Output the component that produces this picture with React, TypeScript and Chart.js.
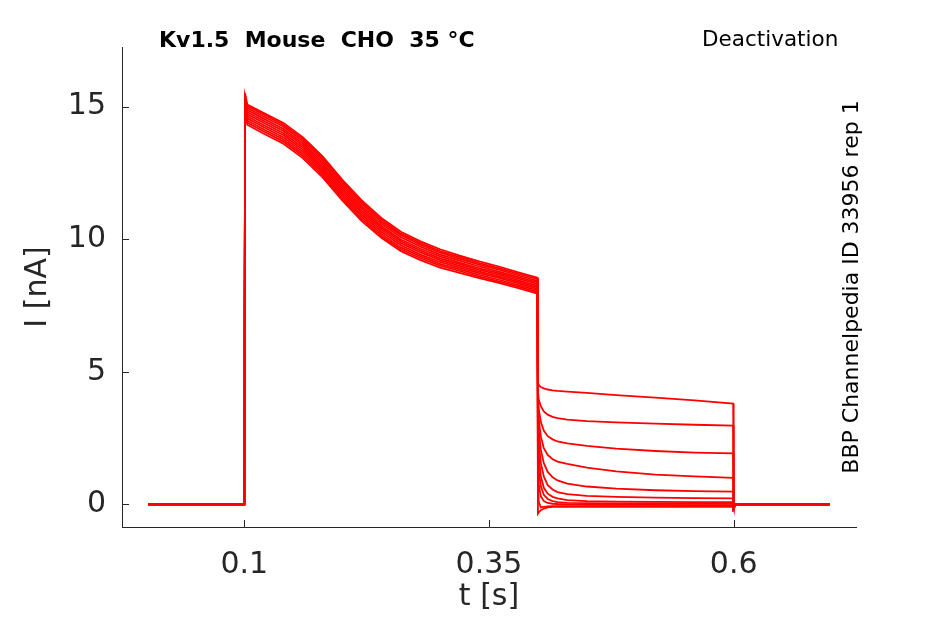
import { useEffect, useRef } from "react"
import { Chart, type ChartConfiguration, type Plugin, registerables } from "chart.js"

Chart.register(...registerables)

// sweep times [s]
const ACT_T = [0.002, 0.1, 0.1008, 0.103, 0.12, 0.14, 0.16, 0.18, 0.2, 0.22, 0.24, 0.26, 0.28, 0.3, 0.32, 0.34, 0.36, 0.38, 0.3995]
const TAIL_T = [0.4, 0.4008, 0.403, 0.406, 0.41, 0.415, 0.42, 0.43, 0.45, 0.48, 0.52, 0.56, 0.5995]
const END_T = [0.6, 0.602, 0.698]

// current during the activating step [nA], one row per sweep
const ACT_I = [
  [0, 0, 15.5, 15.08, 14.76, 14.38, 13.84, 13.12, 12.25, 11.46, 10.8, 10.28, 9.92, 9.62, 9.38, 9.16, 8.97, 8.75, 8.55],
  [0, 0, 15.4, 15.02, 14.7, 14.31, 13.77, 13.05, 12.18, 11.39, 10.73, 10.21, 9.85, 9.55, 9.32, 9.1, 8.91, 8.69, 8.49],
  [0, 0, 15.3, 14.95, 14.62, 14.24, 13.69, 12.97, 12.1, 11.32, 10.66, 10.15, 9.79, 9.49, 9.26, 9.04, 8.85, 8.63, 8.43],
  [0, 0, 15.25, 14.88, 14.54, 14.16, 13.61, 12.89, 12.02, 11.24, 10.58, 10.07, 9.72, 9.42, 9.19, 8.97, 8.78, 8.57, 8.37],
  [0, 0, 15.2, 14.8, 14.46, 14.08, 13.53, 12.81, 11.94, 11.16, 10.5, 9.99, 9.64, 9.35, 9.12, 8.9, 8.72, 8.51, 8.31],
  [0, 0, 15.15, 14.72, 14.38, 14.0, 13.45, 12.73, 11.86, 11.08, 10.43, 9.92, 9.57, 9.28, 9.06, 8.84, 8.66, 8.45, 8.25],
  [0, 0, 15.1, 14.64, 14.3, 13.92, 13.37, 12.65, 11.78, 11.0, 10.36, 9.85, 9.5, 9.21, 8.99, 8.78, 8.6, 8.39, 8.19],
  [0, 0, 15.05, 14.56, 14.22, 13.84, 13.29, 12.57, 11.7, 10.92, 10.28, 9.77, 9.42, 9.14, 8.93, 8.72, 8.54, 8.33, 8.13],
  [0, 0, 15.0, 14.48, 14.14, 13.76, 13.21, 12.49, 11.62, 10.84, 10.2, 9.69, 9.35, 9.07, 8.86, 8.65, 8.47, 8.27, 8.07],
  [0, 0, 14.95, 14.4, 14.06, 13.68, 13.13, 12.41, 11.54, 10.76, 10.12, 9.62, 9.28, 9.0, 8.8, 8.59, 8.41, 8.21, 8.01],
  [0, 0, 14.9, 14.32, 13.98, 13.6, 13.05, 12.33, 11.46, 10.68, 10.05, 9.55, 9.21, 8.93, 8.73, 8.53, 8.35, 8.15, 7.95],
]

// tail currents after the step [nA]
const TAIL_I = [
  [4.6, 4.5, 4.42, 4.37, 4.33, 4.3, 4.28, 4.25, 4.2, 4.12, 4.02, 3.92, 3.8],
  [4.3, 3.95, 3.7, 3.5, 3.38, 3.3, 3.25, 3.19, 3.14, 3.09, 3.04, 3.0, 2.97],
  [4.1, 3.6, 3.1, 2.78, 2.57, 2.45, 2.37, 2.3, 2.2, 2.1, 2.01, 1.95, 1.92],
  [3.9, 3.2, 2.55, 2.12, 1.86, 1.7, 1.61, 1.52, 1.38, 1.24, 1.12, 1.05, 1.0],
  [3.7, 2.8, 2.05, 1.55, 1.22, 1.02, 0.9, 0.78, 0.67, 0.59, 0.53, 0.5, 0.48],
  [3.4, 2.3, 1.55, 1.05, 0.72, 0.56, 0.46, 0.38, 0.32, 0.28, 0.25, 0.23, 0.22],
  [3.0, 1.8, 1.05, 0.62, 0.4, 0.28, 0.22, 0.16, 0.12, 0.1, 0.09, 0.08, 0.08],
  [2.5, 1.3, 0.68, 0.36, 0.2, 0.12, 0.08, 0.05, 0.04, 0.03, 0.03, 0.02, 0.02],
  [1.8, 0.75, 0.3, 0.12, 0.05, 0.02, 0.01, 0.0, -0.01, -0.02, -0.02, -0.03, -0.03],
  [0.8, 0.1, -0.12, -0.1, -0.08, -0.07, -0.07, -0.07, -0.07, -0.07, -0.07, -0.07, -0.07],
  [-0.35, -0.3, -0.22, -0.16, -0.12, -0.1, -0.1, -0.1, -0.1, -0.1, -0.1, -0.1, -0.1],
]

const END_I = [-0.15, 0, 0]

const X_TICKS = [0.1, 0.35, 0.6]
const Y_TICKS = [0, 5, 10, 15]

const INK = "#262626"
const FONT = "'DejaVu Sans', sans-serif"

const annotate: Plugin = {
  id: "annotate",
  afterDraw(chart) {
    const { ctx, chartArea, scales } = chart
    ctx.save()
    ctx.strokeStyle = INK
    ctx.lineWidth = 1
    ctx.beginPath()
    for (const v of X_TICKS) {
      const px = Math.round(scales.x.getPixelForValue(v)) + 0.5
      ctx.moveTo(px, chartArea.bottom)
      ctx.lineTo(px, chartArea.bottom - 7)
    }
    for (const v of Y_TICKS) {
      const py = Math.round(scales.y.getPixelForValue(v)) + 0.5
      ctx.moveTo(chartArea.left, py)
      ctx.lineTo(chartArea.left + 7, py)
    }
    ctx.stroke()

    ctx.fillStyle = "#000"
    ctx.textBaseline = "alphabetic"
    ctx.textAlign = "left"
    ctx.font = `bold 22px ${FONT}`
    ctx.fillText("Kv1.5  Mouse  CHO  35 °C", 159, 47)
    ctx.font = `21.5px ${FONT}`
    ctx.fillText("Deactivation", 702, 46)

    ctx.translate(858, 287)
    ctx.rotate(-Math.PI / 2)
    ctx.textAlign = "center"
    ctx.font = `22px ${FONT}`
    ctx.fillText("BBP Channelpedia ID 33956 rep 1", 0, 0)
    ctx.restore()
  },
}

export default function App() {
  const chartRef = useRef<HTMLCanvasElement>(null)
  const chartInstance = useRef<Chart | null>(null)

  useEffect(() => {
    if (!chartRef.current) return
    const ctx = chartRef.current.getContext("2d")
    if (!ctx) return
    if (chartInstance.current) chartInstance.current.destroy()

    const datasets = ACT_I.map((act, i) => ({
      data: [
        ...ACT_T.map((t, k) => ({ x: t, y: act[k] })),
        ...TAIL_T.map((t, k) => ({ x: t, y: TAIL_I[i][k] })),
        ...END_T.map((t, k) => ({ x: t, y: END_I[k] })),
      ],
      borderColor: "#ff0000",
      borderWidth: 1.8,
      pointRadius: 0,
      tension: 0,
      fill: false,
    }))

    const config: ChartConfiguration = {
      type: "line",
      data: { datasets },
      options: {
        responsive: false,
        animation: false,
        devicePixelRatio: 1,
        layout: { padding: { top: 47, right: 89, left: 0, bottom: 0 } },
        plugins: {
          legend: { display: false },
          title: { display: false },
          tooltip: { enabled: false },
        },
        scales: {
          x: {
            type: "linear",
            min: -0.025,
            max: 0.725,
            afterBuildTicks: (s) => {
              s.ticks = X_TICKS.map((value) => ({ value }))
            },
            afterFit: (s) => {
              s.height = 97
            },
            ticks: {
              autoSkip: false,
              maxRotation: 0,
              padding: 20,
              color: INK,
              font: { size: 30, family: FONT },
              callback: (v) => String(v),
            },
            grid: { display: false, drawTicks: false },
            border: { display: true, color: INK, width: 1 },
            title: {
              display: true,
              text: "t [s]",
              color: INK,
              font: { size: 30, family: FONT },
              padding: { top: 0, bottom: 9 },
            },
          },
          y: {
            type: "linear",
            min: -0.857,
            max: 17.25,
            afterBuildTicks: (s) => {
              s.ticks = Y_TICKS.map((value) => ({ value }))
            },
            afterFit: (s) => {
              s.width = 122
            },
            ticks: {
              autoSkip: false,
              padding: 16,
              color: INK,
              font: { size: 30, family: FONT },
              callback: (v) => String(v),
            },
            grid: { display: false, drawTicks: false },
            border: { display: true, color: INK, width: 1 },
            title: {
              display: true,
              text: "I [nA]",
              color: INK,
              font: { size: 30, family: FONT },
              padding: { top: 20, bottom: 0 },
            },
          },
        },
      },
      plugins: [annotate],
    }

    chartInstance.current = new Chart(ctx, config)

    return () => {
      if (chartInstance.current) chartInstance.current.destroy()
    }
  }, [])

  return (
    <div style={{ position: "absolute", left: 0, top: 0, width: 945, height: 624, background: "#fff" }}>
      <canvas ref={chartRef} width={945} height={624} />
    </div>
  )
}
